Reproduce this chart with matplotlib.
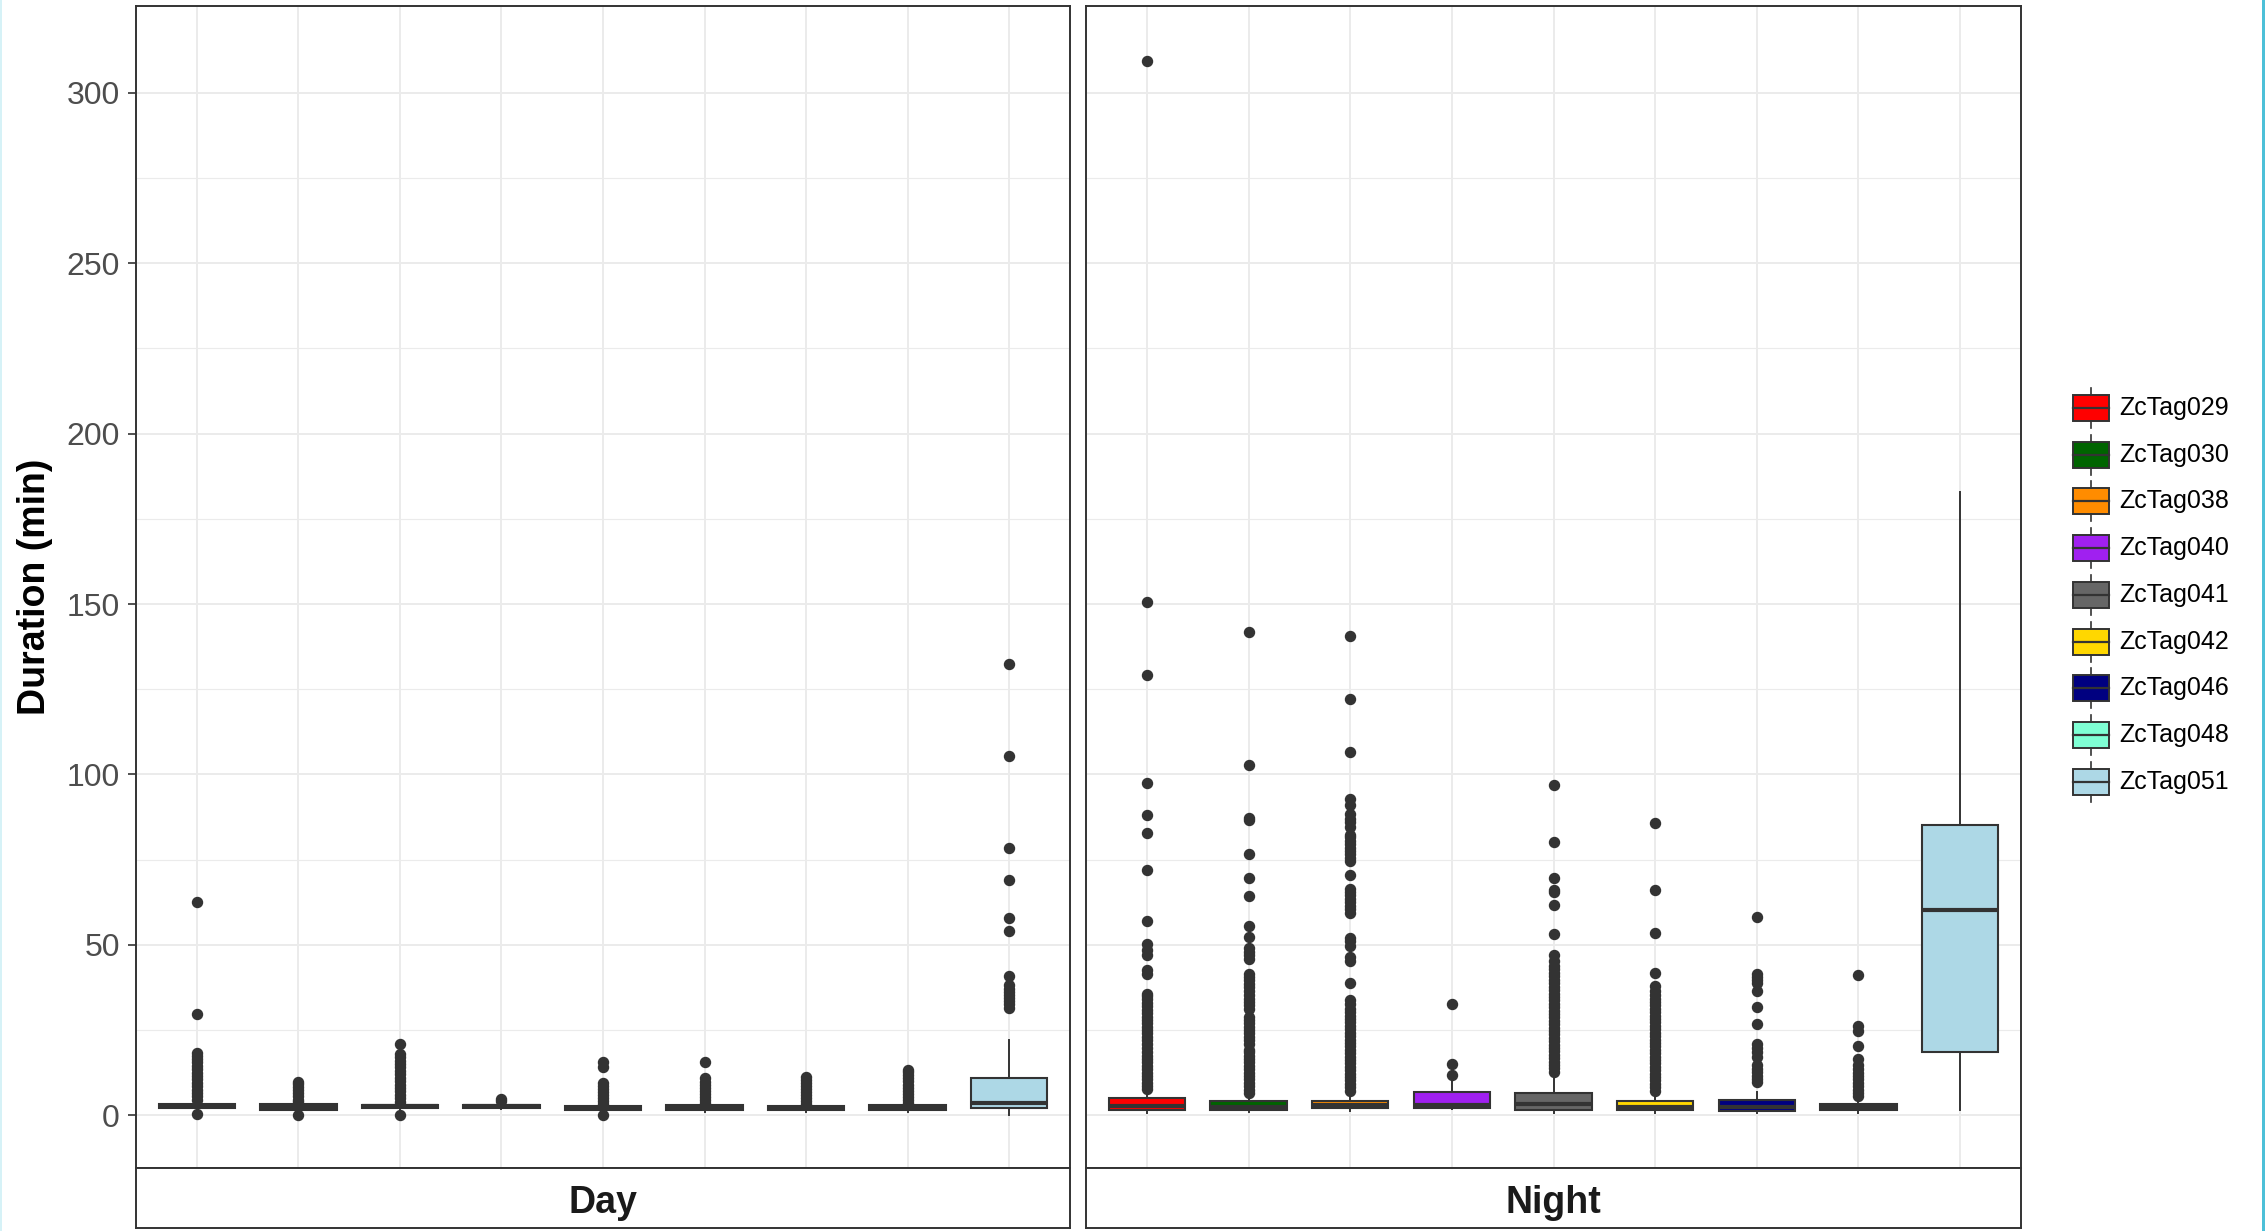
import matplotlib.pyplot as plt
from matplotlib.patches import Rectangle
from matplotlib.lines import Line2D

plt.rcParams['font.family'] = ['Liberation Sans', 'DejaVu Sans']

tags = ['ZcTag029', 'ZcTag030', 'ZcTag038', 'ZcTag040', 'ZcTag041',
        'ZcTag042', 'ZcTag046', 'ZcTag048', 'ZcTag051']
tag_colours = ['#FF0000', '#006400', '#FF8C00', '#A020F0', '#666666',
               '#FFD700', '#000080', '#7FFFD4', '#ADD8E6']

# dive durations (min) during the day
day_q1 = [2.0, 1.5, 2.0, 2.2, 1.5, 1.4, 1.5, 1.4, 2.2]
day_med = [2.6, 2.3, 2.6, 2.7, 2.0, 2.3, 2.0, 2.3, 3.6]
day_q3 = [3.3, 3.4, 3.1, 3.1, 2.6, 3.1, 2.6, 3.1, 10.8]
day_lo = [1.2, 0.8, 1.0, 1.8, 0.8, 1.0, 1.0, 1.0, 0.2]
day_hi = [4.2, 3.5, 3.8, 3.6, 2.9, 3.3, 2.9, 3.3, 22.0]
day_fliers = [
    [0.3, 4.5, 5.5, 6.5, 7.5, 8.5, 9.5, 10.5, 11.5, 12.5, 13.5, 14.5, 15.5,
     16.5, 17.5, 18.2, 29.7, 62.7],
    [0.0, 3.8, 4.6, 5.5, 6.4, 7.3, 8.2, 9.1, 9.8],
    [0.0, 4.0, 5.0, 6.0, 7.0, 8.0, 9.0, 10.0, 11.0, 12.0, 13.0, 14.0, 15.0,
     16.0, 17.0, 18.1, 20.8],
    [4.2, 4.7],
    [0.0, 3.2, 4.1, 5.0, 5.9, 6.8, 7.7, 8.6, 9.3, 14.2, 15.6],
    [3.6, 4.5, 5.4, 6.3, 7.2, 8.1, 9.0, 9.8, 10.8, 15.7],
    [3.2, 4.1, 5.0, 5.9, 6.8, 7.7, 8.6, 9.5, 10.4, 11.3],
    [3.6, 4.5, 5.4, 6.3, 7.2, 8.1, 9.0, 9.9, 10.8, 11.7, 12.7, 13.2],
    [31.6, 32.5, 33.4, 34.3, 35.2, 36.1, 37.0, 38.2, 40.7, 54.1, 57.8, 69.1,
     78.4, 105.4, 132.4],
]

# dive durations (min) during the night
night_q1 = [1.5, 1.5, 2.0, 2.2, 1.5, 1.4, 1.3, 1.4, 18.5]
night_med = [2.6, 2.3, 3.0, 3.0, 3.2, 2.5, 2.3, 2.3, 60.1]
night_q3 = [5.0, 4.2, 4.3, 6.8, 6.6, 4.2, 4.4, 3.4, 85.3]
night_lo = [0.6, 0.8, 1.2, 1.8, 0.6, 0.6, 0.5, 0.5, 1.5]
night_hi = [7.3, 6.0, 7.0, 10.2, 12.4, 7.0, 6.8, 5.1, 182.8]
night_fliers = [
    [7.6, 8.5, 9.5, 10.5, 11.5, 12.5, 13.5, 14.5, 15.5, 16.5, 17.5, 18.5,
     19.7, 21.0, 22.0, 23.0, 24.0, 25.0, 26.0, 27.0, 28.0, 28.7, 29.9, 31.0,
     32.0, 33.0, 34.0, 35.0, 35.7, 41.4, 42.7, 47.1, 48.5, 50.1, 57.1, 72.0,
     82.8, 88.1, 97.6, 129.1, 150.7, 309.5],
    [6.4, 7.5, 8.5, 9.5, 10.5, 11.5, 12.5, 13.5, 14.5, 15.5, 16.5, 17.5,
     18.5, 19.1, 21.0, 22.0, 23.0, 24.0, 25.0, 26.0, 27.0, 28.0, 28.7, 31.2,
     32.2, 33.2, 34.2, 35.2, 36.3, 37.6, 38.6, 39.6, 40.5, 41.4, 45.8, 47.0,
     48.0, 49.0, 52.2, 55.4, 64.3, 69.7, 76.7, 86.5, 87.2, 102.9, 141.8],
    [7.2, 8.2, 9.2, 10.2, 11.2, 12.2, 13.2, 14.2, 15.2, 16.2, 17.2, 18.2,
     19.2, 20.2, 21.2, 22.2, 23.2, 24.2, 25.2, 26.2, 27.2, 28.2, 29.2, 30.2,
     31.2, 32.5, 33.8, 38.8, 45.2, 46.5, 49.7, 51.0, 52.0, 59.2, 60.5, 61.5,
     62.5, 63.5, 64.5, 65.6, 66.5, 70.4, 74.5, 75.5, 76.5, 77.5, 78.5, 79.5,
     80.5, 81.5, 82.1, 84.7, 86.0, 87.0, 88.3, 91.1, 92.7, 106.6, 122.0,
     140.5],
    [11.8, 14.9, 32.7],
    [12.7, 13.7, 14.7, 15.7, 16.7, 17.7, 18.7, 19.7, 20.7, 21.7, 22.7, 23.7,
     24.7, 25.7, 26.7, 27.7, 28.7, 29.7, 30.7, 31.7, 32.7, 33.7, 34.7, 35.7,
     36.7, 37.7, 38.8, 39.8, 40.8, 41.8, 42.8, 43.8, 45.2, 47.1, 53.1, 61.8,
     65.6, 66.2, 69.7, 80.2, 97.0],
    [7.2, 8.2, 9.2, 10.2, 11.2, 12.2, 13.2, 14.2, 15.2, 16.2, 17.2, 18.2,
     19.2, 20.2, 21.2, 22.2, 23.2, 24.2, 25.2, 26.2, 27.2, 28.2, 29.2, 30.2,
     31.2, 32.2, 33.2, 34.2, 35.2, 36.3, 37.8, 41.8, 53.5, 66.0, 85.7],
    [9.6, 10.6, 11.6, 12.6, 13.6, 14.6, 17.2, 18.5, 19.6, 21.0, 26.7, 31.8,
     36.3, 38.8, 39.8, 40.6, 41.4, 58.3],
    [5.5, 6.5, 7.5, 8.5, 9.5, 10.5, 11.5, 12.5, 13.5, 14.6, 16.6, 20.4,
     24.8, 26.1, 41.0],
    [],
]

W, H = 2265, 1231
edge = '#333333'
grid = '#EBEBEB'

fig = plt.figure(figsize=(W / 100, H / 100), dpi=100)


def px_rect(x0, y0, x1, y1):
    return [x0 / W, 1 - y1 / H, (x1 - x0) / W, (y1 - y0) / H]


def draw_panel(ax, q1, med, q3, lo, hi, fliers, show_y):
    stats = []
    for i in range(len(tags)):
        stats.append(dict(label=tags[i], q1=q1[i], med=med[i], q3=q3[i],
                          whislo=lo[i], whishi=hi[i], fliers=fliers[i]))
    res = ax.bxp(stats, positions=range(1, len(tags) + 1), widths=0.75,
                 patch_artist=True, showcaps=False, manage_ticks=False,
                 boxprops=dict(edgecolor=edge, linewidth=1.5),
                 medianprops=dict(color=edge, linewidth=3.0),
                 whiskerprops=dict(color=edge, linewidth=1.4),
                 flierprops=dict(marker='o', markerfacecolor=edge,
                                 markeredgecolor=edge, markersize=7.2))
    for box, c in zip(res['boxes'], tag_colours):
        box.set_facecolor(c)

    ax.set_xlim(0.4, 9.6)
    ax.set_ylim(-15.5, 325.5)
    ax.set_xticks(range(1, len(tags) + 1))
    ax.set_xticklabels([])
    ax.set_yticks(range(0, 301, 50))
    ax.set_yticks(range(25, 300, 50), minor=True)
    ax.grid(which='major', color=grid, linewidth=1.4)
    ax.grid(which='minor', axis='y', color=grid, linewidth=0.8)
    ax.set_axisbelow(True)
    ax.tick_params(axis='x', length=0)
    ax.tick_params(which='minor', length=0)
    if show_y:
        ax.tick_params(axis='y', length=5.8, width=1.2, color=edge, pad=5.8,
                       labelsize=23, labelcolor='#4D4D4D')
    else:
        ax.tick_params(axis='y', length=0, labelleft=False)
    for s in ax.spines.values():
        s.set_color(edge)
        s.set_linewidth(1.4)


def draw_strip(rect, label):
    sax = fig.add_axes(rect)
    sax.set_xticks([])
    sax.set_yticks([])
    sax.set_facecolor('white')
    for s in sax.spines.values():
        s.set_color(edge)
        s.set_linewidth(1.4)
    sax.text(0.5, 0.42, label, transform=sax.transAxes, ha='center',
             va='center', fontsize=27, fontweight='bold', color='#1A1A1A')


ax_day = fig.add_axes(px_rect(136, 6, 1070, 1168))
ax_night = fig.add_axes(px_rect(1086, 6, 2021, 1168))
draw_panel(ax_day, day_q1, day_med, day_q3, day_lo, day_hi, day_fliers, True)
draw_panel(ax_night, night_q1, night_med, night_q3, night_lo, night_hi,
           night_fliers, False)
draw_strip(px_rect(136, 1168, 1070, 1228), 'Day')
draw_strip(px_rect(1086, 1168, 2021, 1228), 'Night')

fig.text(35 / W, 1 - 587 / H, 'Duration (min)', rotation=90, ha='center',
         va='center', fontsize=27, fontweight='bold', color='black')

# legend drawn as boxplot glyphs in pixel space
lax = fig.add_axes([0, 0, 1, 1])
lax.set_xlim(0, W)
lax.set_ylim(H, 0)
lax.axis('off')
for i, (tag, c) in enumerate(zip(tags, tag_colours)):
    yc = 408 + i * 46.7
    lax.add_line(Line2D([2091, 2091], [yc - 20, yc - 13], color=edge, lw=1.2))
    lax.add_line(Line2D([2091, 2091], [yc + 13, yc + 20], color=edge, lw=1.2))
    lax.add_patch(Rectangle((2073, yc - 13), 36, 26, facecolor=c,
                            edgecolor=edge, linewidth=1.4))
    lax.add_line(Line2D([2073, 2109], [yc, yc], color=edge, lw=1.6))
    lax.text(2119, yc, tag, ha='left', va='center', fontsize=18,
             color='black')

# thin coloured border along the window edges
lax.add_patch(Rectangle((2262, 0), 3, H, facecolor='#4DC0D8', edgecolor='none'))
lax.add_patch(Rectangle((0, 0), 2, H, facecolor='#D6F2F7', edgecolor='none'))

fig.savefig('out.png', dpi=100)
